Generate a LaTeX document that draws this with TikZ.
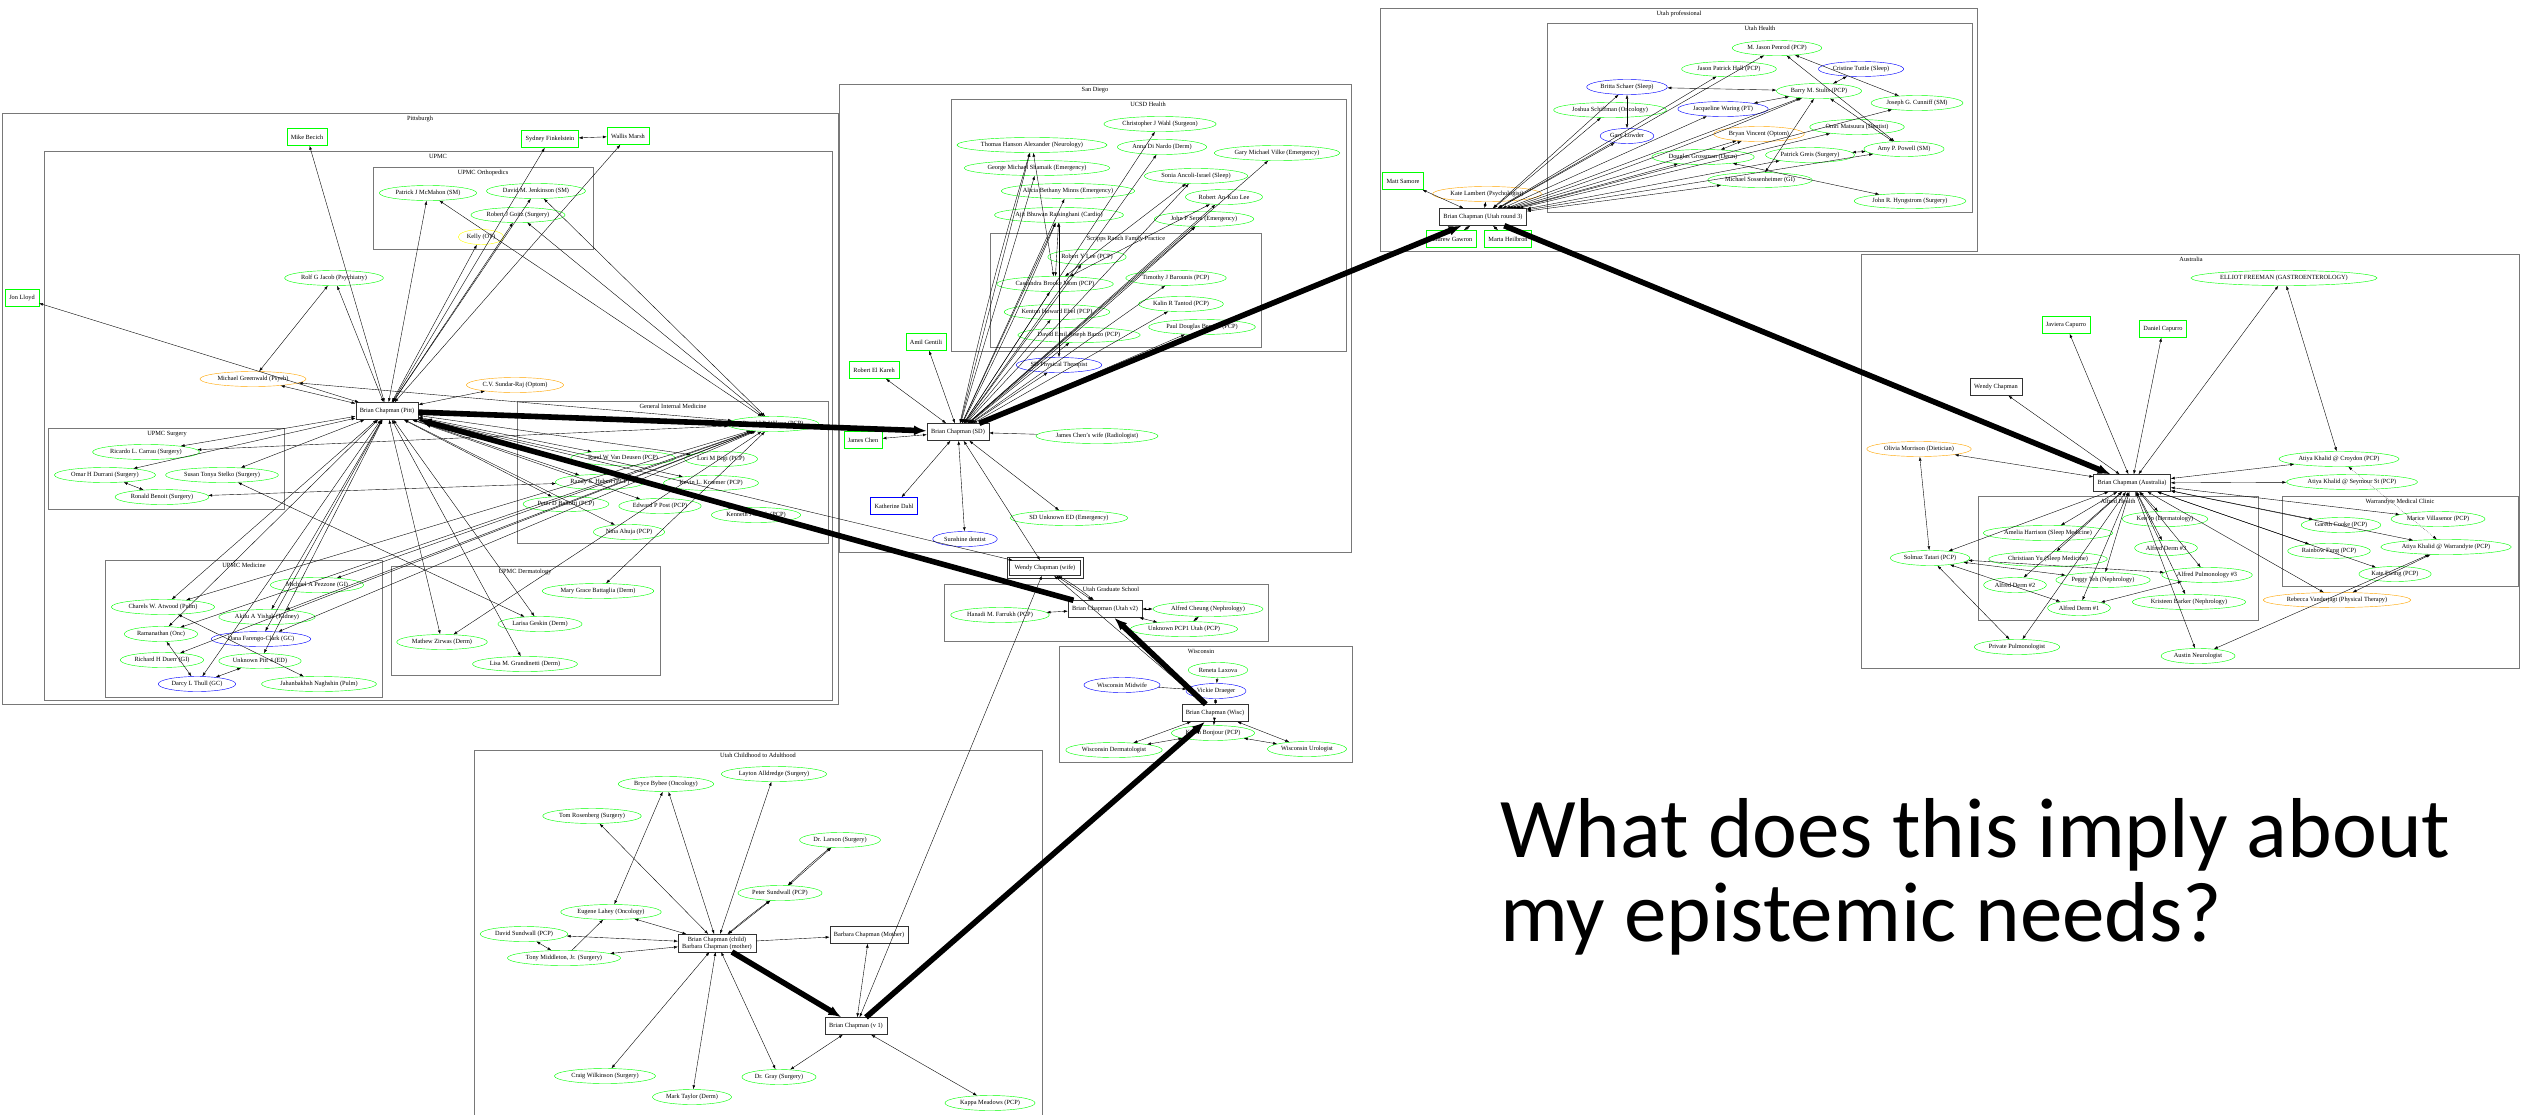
\documentclass[tikz,border=0pt]{standalone}
\usepackage{fontspec}
\setmainfont{Liberation Serif}
\newfontfamily\slidefont{Carlito}
\usetikzlibrary{arrows.meta,shapes.geometric}
\definecolor{pgreen}{RGB}{0,255,0}
\definecolor{pblue}{RGB}{0,0,255}
\definecolor{porange}{RGB}{255,165,0}
\definecolor{pyellow}{RGB}{255,255,0}
\definecolor{framegray}{RGB}{120,120,120}
\tikzset{
  doc/.style={
    ellipse,
    draw=pgreen,
    line width=0.6pt,
    inner xsep=1mm,
    inner ysep=0.3mm,
    minimum height=7.5mm,
    font=\fontsize{9}{10}\selectfont
  },
  bluedoc/.style={doc, draw=pblue},
  orangedoc/.style={doc, draw=porange},
  yellowdoc/.style={doc, draw=pyellow},
  me/.style={
    draw=black!80,
    rectangle,
    line width=0.6pt,
    inner xsep=2mm,
    minimum height=8.5mm,
    align=center,
    font=\fontsize{9}{10}\selectfont
  },
  kin/.style={me, draw=pgreen},
  bluekin/.style={me, draw=pblue},
  cluster/.style={draw=framegray, line width=0.9pt},
  clustername/.style={anchor=north, inner sep=1pt, font=\fontsize{9}{10}\selectfont},
  link/.style={{Latex[length=2mm,width=1.4mm]}-{Latex[length=2mm,width=1.4mm]}, line width=0.55pt},
  oneway/.style={-{Latex[length=2mm,width=1.4mm]}, line width=0.55pt},
  jump/.style={-{Latex[length=6.5mm,width=5mm]}, line width=2.8mm},
  slide/.style={anchor=base west, inner sep=0pt, font=\slidefont\fontsize{121}{121}\selectfont}
}
\begin{document}
\begin{tikzpicture}[x=0.5mm, y=-0.5mm]
  \useasboundingbox (0,0) rectangle (2521,1114);

  \draw[cluster] (2,113) rectangle (838,704);
  \node[clustername] (lblpgh) at (420,115) {Pittsburgh};
  \draw[cluster] (44,151) rectangle (832,700);
  \node[clustername] (lblupmc) at (438,153) {UPMC};
  \draw[cluster] (373,167) rectangle (593,249);
  \node[clustername] (lblortho) at (483,169) {UPMC Orthopedics};
  \draw[cluster] (48,428) rectangle (284,509);
  \node[clustername] (lblsurg) at (167,430) {UPMC Surgery};
  \draw[cluster] (105,560) rectangle (382,697);
  \node[clustername] (lblmed) at (244,562) {UPMC Medicine};
  \draw[cluster] (391,566) rectangle (660,675);
  \node[clustername] (lblderm) at (525,568) {UPMC Dermatology};
  \draw[cluster] (517,401) rectangle (828,543);
  \node[clustername] (lblgim) at (673,403) {General Internal Medicine};
  \draw[cluster] (839,84) rectangle (1351,552);
  \node[clustername] (lblsd) at (1095,86) {San Diego};
  \draw[cluster] (951,99) rectangle (1346,351);
  \node[clustername] (lblucsd) at (1148,101) {UCSD Health};
  \draw[cluster] (990,233) rectangle (1261,347);
  \node[clustername] (lblscripps) at (1126,235) {Scripps Ranch Family Practice};
  \draw[cluster] (944,584) rectangle (1268,641);
  \node[clustername] (lblgrad) at (1111,586) {Utah Graduate School};
  \draw[cluster] (1059,646) rectangle (1352,762);
  \node[clustername] (lblwisc) at (1201,648) {Wisconsin};
  \draw[cluster] (1380,8) rectangle (1977,251);
  \node[clustername] (lblutpro) at (1679,10) {Utah professional};
  \draw[cluster] (1547,23) rectangle (1972,212);
  \node[clustername] (lbluthealth) at (1760,25) {Utah Health};
  \draw[cluster] (1861,254) rectangle (2519,668);
  \node[clustername] (lblaus) at (2191,256) {Australia};
  \draw[cluster] (1978,496) rectangle (2258,620);
  \node[clustername] (lblalfred) at (2118,498) {Alfred Health};
  \draw[cluster] (2282,496) rectangle (2518,586);
  \node[clustername] (lblwarr) at (2400,498) {Warrandyte Medical Clinic};
  \draw[cluster] (474,750) rectangle (1042,1125);
  \node[clustername] (lblchild) at (758,752) {Utah Childhood to Adulthood};

  % Pittsburgh
  \node[me] (pitt) at (387,411) {Brian Chapman (Pitt)};
  \node[kin] (becich) at (307,137) {Mike Becich};
  \node[kin] (lloyd) at (22,298) {Jon Lloyd};
  \node[kin] (finkel) at (550,139) {Sydney Finkelstein};
  \node[kin] (marsh) at (628,136) {Wallis Marsh};
  \node[doc] (mcmahon) at (428,193) {Patrick J McMahon (SM)};
  \node[doc] (jenkinson) at (536,191) {David M. Jenkinson (SM)};
  \node[doc] (goitz) at (518,215) {Robert J Goitz (Surgery)};
  \node[yellowdoc] (kelly) at (481,237) {Kelly (OT)};
  \node[doc] (jacob) at (334,278) {Rolf G Jacob (Psychiatry)};
  \node[orangedoc] (greenwald) at (253,379) {Michael Greenwald (Psych)};
  \node[orangedoc] (sundar) at (515,385) {C.V. Sundar-Raj (Optom)};
  \node[doc] (carrau) at (146,452) {Ricardo L. Carrau (Surgery)};
  \node[doc] (durrani) at (105,475) {Omar H Durrani (Surgery)};
  \node[doc] (stelko) at (222,475) {Susan Tonya Stelko (Surgery)};
  \node[doc] (benoit) at (162,497) {Ronald Benoit (Surgery)};
  \node[doc] (pezzone) at (317,585) {Michael A Pezzone (GI)};
  \node[doc] (atwood) at (163,607) {Charels W. Atwood (Pulm)};
  \node[doc] (yishak) at (267,617) {Akilu A Yishak (Kidney)};
  \node[doc] (ramanathan) at (161,634) {Ramanathan (Onc)};
  \node[bluedoc] (farengo) at (261,639) {Dana Farengo-Clark (GC)};
  \node[doc] (duerr) at (162,660) {Richard H Duerr (GI)};
  \node[doc] (unkpitt) at (260,661) {Unknown Pitt 4 (ED)};
  \node[bluedoc] (thull) at (197,684) {Darcy L Thull (GC)};
  \node[doc] (naghshin) at (319,684) {Jahanbakhsh Naghshin (Pulm)};
  \node[doc] (battaglia) at (598,591) {Mary Grace Battaglia (Derm)};
  \node[doc] (geskin) at (540,624) {Larisa Geskin (Derm)};
  \node[doc] (zirwas) at (442,642) {Mathew Zirwas (Derm)};
  \node[doc] (grandinetti) at (525,664) {Lisa M. Grandinetti (Derm)};
  \node[doc] (ronald) at (773,424) {Ronald P. Wilson (PCP)};
  \node[doc] (vandeusen) at (623,458) {Rand W Van Deusen (PCP)};
  \node[doc] (bigi) at (721,459) {Lori M Bigi (PCP)};
  \node[doc] (hebert) at (600,482) {Randy S. Hebert (PCP)};
  \node[doc] (kraemer) at (711,483) {Kevin L. Kraemer (PCP)};
  \node[doc] (bellotti) at (566,504) {Peter D Bellotti (PCP)};
  \node[doc] (post) at (660,506) {Edward P Post (PCP)};
  \node[doc] (smith) at (756,515) {Kenneth J Smith (PCP)};
  \node[doc] (ahuja) at (629,532) {Nina Ahuja (PCP)};

  % San Diego
  \node[me] (sd) at (958,432) {Brian Chapman (SD)};
  \node[doc] (wahl) at (1160,124) {Christopher J Wahl (Surgeon)};
  \node[doc] (alexander) at (1032,145) {Thomas Hanson Alexander (Neurology)};
  \node[doc] (dinardo) at (1162,147) {Anna Di Nardo (Derm)};
  \node[doc] (vilke) at (1277,153) {Gary Michael Vilke (Emergency)};
  \node[doc] (shamaik) at (1037,168) {George Michael Shamaik (Emergency)};
  \node[doc] (ancoli) at (1196,176) {Sonia Ancoli-Israel (Sleep)};
  \node[doc] (minns) at (1068,191) {Alicia Bethany Minns (Emergency)};
  \node[doc] (anlee) at (1224,197) {Robert An-Kuo Lee};
  \node[doc] (raisinghani) at (1059,215) {Ajit Bhuwan Raisinghani (Cardio)};
  \node[doc] (serra) at (1204,219) {John P Serra (Emergency)};
  \node[doc] (rylee) at (1087,257) {Robert Y Lee (PCP)};
  \node[doc] (cassandra) at (1055,284) {Cassandra Brooke Mom (PCP)};
  \node[doc] (barounis) at (1176,278) {Timothy J Barounis (PCP)};
  \node[doc] (ebel) at (1057,312) {Kenton Howard Ebel (PCP)};
  \node[doc] (tantod) at (1181,304) {Kalin R Tantod (PCP)};
  \node[doc] (bazzo) at (1079,335) {David Emil Joseph Bazzo (PCP)};
  \node[doc] (benson) at (1202,327) {Paul Douglas Benson (PCP)};
  \node[bluedoc] (sdpt) at (1059,365) {SD Physical Therapist};
  \node[kin] (gentili) at (926,342) {Amil Gentili};
  \node[kin] (elkareh) at (874,370) {Robert El Kareh};
  \node[kin] (jchen) at (863,440) {James Chen};
  \node[doc] (chenwife) at (1097,436) {James Chen's wife (Radiologist)};
  \node[bluekin] (dahl) at (894,506) {Katherine Dahl};
  \node[doc] (sdunk) at (1069,518) {SD Unknown ED (Emergency)};
  \node[bluedoc] (sunshine) at (965,539) {Sunshine dentist};
  \node[me, inner xsep=2.5mm, minimum height=7.5mm] (wife) at (1045,568) {Wendy Chapman (wife)};
  \draw[draw=black!80, line width=0.6pt] ([xshift=-1.3mm,yshift=-1.3mm]wife.south west) rectangle ([xshift=1.3mm,yshift=1.3mm]wife.north east);

  % Utah graduate school and Wisconsin
  \node[me] (utah2) at (1105,609) {Brian Chapman (Utah v2)};
  \node[doc] (farrukh) at (1000,615) {Hanadi M. Farrukh (PCP)};
  \node[doc] (cheung) at (1208,609) {Alfred Cheung (Nephrology)};
  \node[doc] (unkpcp) at (1184,629) {Unknown PCP1 Utah (PCP)};
  \node[doc] (laxova) at (1218,670) {Reneta Laxova};
  \node[bluedoc] (midwife) at (1122,685) {Wisconsin Midwife};
  \node[bluedoc] (draeger) at (1216,691) {Vickie Draeger};
  \node[me] (wisc) at (1215,713) {Brian Chapman (Wisc)};
  \node[doc] (bonjour) at (1213,733) {Karen Bonjour (PCP)};
  \node[doc] (wderm) at (1114,750) {Wisconsin Dermatologist};
  \node[doc] (wuro) at (1307,749) {Wisconsin Urologist};

  % Utah professional
  \node[me] (ur3) at (1483,217) {Brian Chapman (Utah round 3)};
  \node[kin] (samore) at (1403,181) {Matt Samore};
  \node[orangedoc] (lambert) at (1487,194) {Kate Lambert (Psychologist)};
  \node[kin] (gawron) at (1451,239) {Andrew Gawron};
  \node[kin] (heilbron) at (1508,239) {Marta Heilbron};
  \node[doc] (penrod) at (1777,48) {M. Jason Penrod (PCP)};
  \node[doc] (hall) at (1729,69) {Jason Patrick Hall (PCP)};
  \node[bluedoc] (tuttle) at (1861,69) {Cristine Tuttle (Sleep)};
  \node[bluedoc] (schaer) at (1627,87) {Britta Schaer (Sleep)};
  \node[doc] (stults) at (1819,91) {Barry M. Stults (PCP)};
  \node[doc] (cunniff) at (1917,103) {Joseph G. Cunniff (SM)};
  \node[doc] (schiffman) at (1610,110) {Joshua Schiffman (Oncology)};
  \node[bluedoc] (waring) at (1723,109) {Jacqueline Waring (PT)};
  \node[bluedoc] (lowder) at (1627,136) {Gary Lowder};
  \node[orangedoc] (vincent) at (1759,134) {Bryan Vincent (Optom)};
  \node[doc] (matsuura) at (1857,127) {Omri Matsuura (Dentist)};
  \node[doc] (powell) at (1904,149) {Amy P. Powell (SM)};
  \node[doc] (grossman) at (1703,157) {Douglas Grossman (Derm)};
  \node[doc] (greis) at (1810,155) {Patrick Greis (Surgery)};
  \node[doc] (sossenheimer) at (1760,180) {Michael Sossenheimer (GI)};
  \node[doc] (hyngstrom) at (1910,201) {John R. Hyngstrom (Surgery)};

  % Australia
  \node[me] (au) at (2132,483) {Brian Chapman (Australia)};
  \node[doc] (freeman) at (2284,278) {ELLIOT FREEMAN (GASTROENTEROLOGY)};
  \node[kin] (javiera) at (2066,325) {Javiera Capurro};
  \node[kin] (daniel) at (2163,329) {Daniel Capurro};
  \node[me] (wendy) at (1996,387) {Wendy Chapman};
  \node[orangedoc] (morrison) at (1919,449) {Olivia Morrison (Dietician)};
  \node[doc] (croydon) at (2339,459) {Atiya Khalid @ Croydon (PCP)};
  \node[doc] (seymour) at (2352,482) {Atiya Khalid @ Seymour St (PCP)};
  \node[doc] (kenip) at (2165,519) {Ken Ip (Dermatology)};
  \node[doc] (harrison) at (2048,533) {Amelia Harrison (Sleep Medicine)};
  \node[doc] (derm3) at (2166,548) {Alfred Derm \#3};
  \node[doc] (yu) at (2048,559) {Christiaan Yu (Sleep Medicine)};
  \node[doc] (pulm3) at (2207,575) {Alfred Pulmonology \#3};
  \node[doc] (teh) at (2103,580) {Peggy Teh (Nephrology)};
  \node[doc] (derm2) at (2015,585) {Alfred Derm \#2};
  \node[doc] (barker) at (2189,602) {Kristeen Barker (Nephrology)};
  \node[doc] (derm1) at (2079,608) {Alfred Derm \#1};
  \node[doc] (tatari) at (1930,558) {Solmaz Tatari (PCP)};
  \node[doc] (privpulm) at (2017,647) {Private Pulmonologist};
  \node[doc] (austin) at (2198,656) {Austin Neurologist};
  \node[doc] (villasenor) at (2438,519) {Marice Villasenor (PCP)};
  \node[doc] (cooke) at (2341,525) {Gareth Cooke (PCP)};
  \node[doc] (warrandyte) at (2446,547) {Atiya Khalid @ Warrandyte (PCP)};
  \node[doc] (fung) at (2329,551) {Rainbow Fung (PCP)};
  \node[doc] (ewing) at (2395,574) {Kate Ewing (PCP)};
  \node[orangedoc] (vanderjagt) at (2337,600) {Rebecca Vanderjagt (Physical Therapy)};

  % Utah childhood
  \node[me] (child) at (717,943) {Brian Chapman (child)\\Barbara Chapman (mother)};
  \node[me] (mother) at (869,935) {Barbara Chapman (Mother)};
  \node[me] (v1) at (856,1026) {Brian Chapman (v 1)};
  \node[doc] (alldredge) at (774,774) {Layton Alldredge (Surgery)};
  \node[doc] (bybee) at (666,784) {Bryce Bybee (Oncology)};
  \node[doc] (rosenberg) at (592,816) {Tom Rosenberg (Surgery)};
  \node[doc] (larson) at (840,840) {Dr. Larson (Surgery)};
  \node[doc] (psundwall) at (780,893) {Peter Sundwall (PCP)};
  \node[doc] (lahey) at (611,912) {Eugene Lahey (Oncology)};
  \node[doc] (dsundwall) at (524,934) {David Sundwall (PCP)};
  \node[doc] (middleton) at (564,958) {Tony Middleton, Jr. (Surgery)};
  \node[doc] (wilkinson) at (605,1076) {Craig Wilkinson (Surgery)};
  \node[doc] (gray) at (779,1077) {Dr. Gray (Surgery)};
  \node[doc] (taylor) at (692,1097) {Mark Taylor (Derm)};
  \node[doc] (kappa) at (990,1103) {Kappa Meadows (PCP)};

  \node[slide] (ask1) at (1500,857) {What does this imply about};
  \node[slide] (ask2) at (1500,941) {my epistemic needs?};

  % Pittsburgh links
  \draw[link] (pitt) -- (becich);
  \draw[link] (pitt) -- (lloyd);
  \draw[link] (pitt) -- (finkel);
  \draw[link] (pitt) -- (marsh);
  \draw[link] (finkel) -- (marsh);
  \draw[link] (pitt) -- (mcmahon);
  \draw[link] (pitt) -- (jenkinson);
  \draw[link] (pitt) -- (goitz);
  \draw[link] (pitt) -- (kelly);
  \draw[link] (pitt) -- (jacob);
  \draw[link] (pitt) -- (greenwald);
  \draw[link] (greenwald) -- (jacob);
  \draw[link] (pitt) -- (sundar);
  \draw[link] (pitt) -- (carrau);
  \draw[link] (pitt) -- (durrani);
  \draw[link] (pitt) -- (stelko);
  \draw[link] (durrani) -- (benoit);
  \draw[link] (stelko) -- (geskin);
  \draw[link] (pitt) -- (atwood);
  \draw[link] (pitt) -- (ramanathan);
  \draw[link] (pitt) -- (thull);
  \draw[link] (pitt) -- (unkpitt);
  \draw[link] (pitt) -- (yishak);
  \draw[link] (pitt) -- (farengo);
  \draw[link] (atwood) -- (naghshin);
  \draw[link] (ramanathan) -- (thull);
  \draw[link] (unkpitt) -- (thull);
  \draw[link] (pitt) -- (zirwas);
  \draw[link] (pitt) -- (geskin);
  \draw[link] (pitt) -- (grandinetti);
  \draw[link] (pitt) -- (ronald);
  \draw[link] (pitt) -- (vandeusen);
  \draw[link] (pitt) -- (bigi);
  \draw[link] (pitt) -- (hebert);
  \draw[link] (pitt) -- (kraemer);
  \draw[link] (pitt) -- (bellotti);
  \draw[link] (pitt) -- (post);
  \draw[link] (pitt) -- (ahuja);
  \draw[link] (pitt) -- (smith);
  \draw[link] (pitt) -- (wife);
  \draw[link] (benoit) -- (hebert);
  \draw[link] (ronald) -- (mcmahon);
  \draw[link] (ronald) -- (jenkinson);
  \draw[link] (ronald) -- (goitz);
  \draw[link] (ronald) -- (greenwald);
  \draw[link] (ronald) -- (carrau);
  \draw[link] (ronald) -- (zirwas);
  \draw[link] (ronald) -- (battaglia);
  \draw[link] (ronald) -- (pezzone);
  \draw[link] (ronald) -- (atwood);
  \draw[link] (ronald) -- (yishak);
  \draw[link] (ronald) -- (farengo);
  \draw[link] (ronald) -- (duerr);
  \draw[link] (ronald) -- (ramanathan);

  % San Diego links
  \draw[link] (sd) -- (alexander);
  \draw[link] (sd) to[bend left=2] (alexander);
  \draw[link] (sd) -- (shamaik);
  \draw[link] (sd) -- (minns);
  \draw[link] (sd) -- (raisinghani);
  \draw[link] (sd) to[bend right=2] (raisinghani);
  \draw[link] (sd) -- (wahl);
  \draw[link] (sd) -- (dinardo);
  \draw[link] (sd) -- (vilke);
  \draw[link] (sd) -- (ancoli);
  \draw[link] (sd) -- (anlee);
  \draw[link] (sd) -- (serra);
  \draw[link] (sd) to[bend right=1] (serra);
  \draw[link] (sd) -- (rylee);
  \draw[link] (sd) -- (cassandra);
  \draw[link] (sd) -- (barounis);
  \draw[link] (sd) -- (ebel);
  \draw[link] (sd) -- (tantod);
  \draw[link] (sd) -- (bazzo);
  \draw[link] (sd) -- (benson);
  \draw[link] (sd) -- (sdpt);
  \draw[link] (cassandra) -- (alexander);
  \draw[link] (cassandra) -- (raisinghani);
  \draw[link] (cassandra) -- (ancoli);
  \draw[link] (cassandra) -- (anlee);
  \draw[link] (sdpt) -- (raisinghani);
  \draw[link] (sd) -- (gentili);
  \draw[link] (sd) -- (elkareh);
  \draw[link] (sd) -- (jchen);
  \draw[link] (sd) -- (dahl);
  \draw[link] (sd) -- (sunshine);
  \draw[link] (sd) -- (sdunk);
  \draw[link] (sd) -- (wife);
  \draw[oneway] (chenwife) -- (sd);

  % Utah graduate school and Wisconsin links
  \draw[link] (utah2) -- (farrukh);
  \draw[link] (utah2) -- (cheung);
  \draw[link] (utah2) -- (unkpcp);
  \draw[link] (cheung) -- (unkpcp);
  \draw[link] (wife) -- (utah2);
  \draw[link] (wife) to[bend left=4] (utah2);
  \draw[link] (wife) -- (wisc);
  \draw[link] (wife) -- (v1);
  \draw[link] (wisc) -- (draeger);
  \draw[link] (wisc) -- (bonjour);
  \draw[link] (wisc) -- (wderm);
  \draw[link] (wisc) -- (wuro);
  \draw[link] (bonjour) -- (wderm);
  \draw[link] (bonjour) -- (wuro);
  \draw[oneway] (laxova) -- (draeger);
  \draw[oneway] (midwife) -- (draeger);

  % Utah professional links
  \draw[link] (ur3) -- (samore);
  \draw[link] (ur3) -- (lambert);
  \draw[link] (ur3) -- (gawron);
  \draw[link] (ur3) -- (heilbron);
  \draw[link] (ur3) -- (schaer);
  \draw[link] (ur3) -- (hall);
  \draw[link] (ur3) -- (penrod);
  \draw[link] (ur3) -- (schiffman);
  \draw[link] (ur3) -- (lowder);
  \draw[link] (ur3) -- (waring);
  \draw[link] (ur3) -- (stults);
  \draw[link] (ur3) to[bend right=2] (stults);
  \draw[link] (ur3) -- (vincent);
  \draw[link] (ur3) -- (grossman);
  \draw[link] (ur3) -- (matsuura);
  \draw[link] (ur3) -- (cunniff);
  \draw[link] (ur3) -- (greis);
  \draw[link] (ur3) -- (powell);
  \draw[link] (ur3) -- (sossenheimer);
  \draw[link] (schaer) -- (stults);
  \draw[link] (schaer) -- (lowder);
  \draw[link] (tuttle) -- (stults);
  \draw[link] (penrod) -- (cunniff);
  \draw[link] (penrod) -- (powell);
  \draw[link] (stults) -- (powell);
  \draw[link] (stults) -- (waring);
  \draw[link] (stults) -- (sossenheimer);
  \draw[link] (vincent) -- (grossman);
  \draw[link] (greis) -- (powell);
  \draw[link] (grossman) -- (hyngstrom);

  % Australia links
  \draw[link] (au) -- (freeman);
  \draw[link] (au) -- (javiera);
  \draw[link] (au) -- (daniel);
  \draw[link] (au) -- (wendy);
  \draw[link] (au) -- (morrison);
  \draw[link] (au) -- (croydon);
  \draw[link] (au) -- (seymour);
  \draw[link] (au) -- (kenip);
  \draw[link] (au) -- (harrison);
  \draw[link] (au) -- (derm3);
  \draw[link] (au) -- (yu);
  \draw[link] (au) -- (pulm3);
  \draw[link] (au) -- (teh);
  \draw[link] (au) -- (derm2);
  \draw[link] (au) -- (barker);
  \draw[link] (au) -- (derm1);
  \draw[link] (au) -- (tatari);
  \draw[link] (au) -- (privpulm);
  \draw[link] (au) -- (austin);
  \draw[link] (au) -- (villasenor);
  \draw[link] (au) -- (cooke);
  \draw[link] (au) -- (warrandyte);
  \draw[link] (au) -- (fung);
  \draw[link] (au) -- (ewing);
  \draw[link] (au) -- (vanderjagt);
  \draw[link] (freeman) -- (croydon);
  \draw[link] (morrison) -- (tatari);
  \draw[link] (tatari) -- (teh);
  \draw[link] (tatari) -- (pulm3);
  \draw[link] (tatari) -- (derm1);
  \draw[link] (tatari) -- (privpulm);
  \draw[link] (derm1) -- (pulm3);
  \draw[link] (austin) -- (warrandyte);
  \draw[link] (vanderjagt) -- (warrandyte);
  \draw[link, dotted] (croydon) -- (warrandyte);

  % Utah childhood links
  \draw[link] (child) -- (alldredge);
  \draw[link] (child) -- (bybee);
  \draw[link] (child) -- (rosenberg);
  \draw[link] (child) -- (psundwall);
  \draw[link] (child) to[bend left=2] (psundwall);
  \draw[link] (child) -- (lahey);
  \draw[link] (child) -- (dsundwall);
  \draw[link] (child) -- (middleton);
  \draw[link] (child) -- (wilkinson);
  \draw[link] (child) -- (taylor);
  \draw[link] (child) -- (gray);
  \draw[oneway] (child) -- (mother);
  \draw[link] (bybee) -- (lahey);
  \draw[link] (psundwall) -- (larson);
  \draw[link] (psundwall) to[bend left=3] (larson);
  \draw[link] (dsundwall) -- (middleton);
  \draw[oneway] (middleton) -- (lahey);
  \draw[link] (v1) -- (mother);
  \draw[link] (v1) -- (gray);
  \draw[link] (v1) -- (kappa);

  % moves
  \draw[jump] (child) -- (v1);
  \draw[jump] (v1) -- (wisc);
  \draw[jump] (wisc) -- (utah2);
  \draw[jump] (utah2) -- (pitt);
  \draw[jump] (pitt) -- (sd);
  \draw[jump] (sd) -- (ur3);
  \draw[jump] (ur3) -- (au);
\end{tikzpicture}
\end{document}
